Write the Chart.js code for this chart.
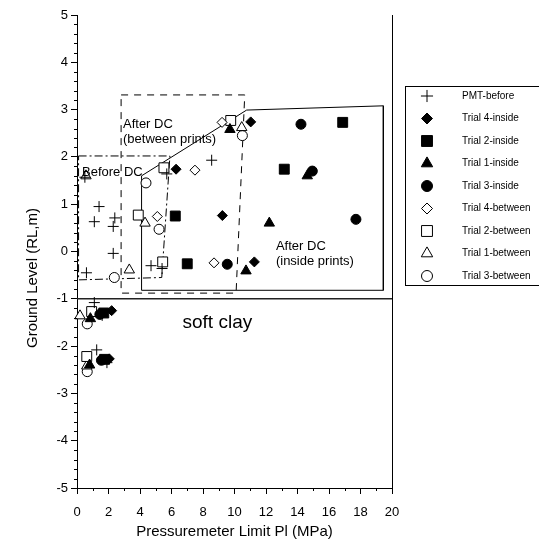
<!DOCTYPE html>
<html>
<head>
<meta charset="utf-8">
<script src="https://cdn.jsdelivr.net/npm/chart.js@4.4.0/dist/chart.umd.min.js"></script>
<style>
  html, body { margin: 0; padding: 0; background: #fff; }
</style>
</head>
<body>
<canvas id="myChart" width="539" height="541"></canvas>
<script>
// point data [pressuremeter limit (MPa), ground level (RL, m)]
const pmtBefore = [[0.5, 1.57], [5.7, 1.64], [8.55, 1.93], [1.4, 0.95], [1.1, 0.63], [2.4, 0.71],
  [2.3, 0.53], [2.3, -0.04], [0.6, -0.45], [4.7, -0.3], [5.4, -0.36], [1.1, -1.08], [1.6, -1.35],
  [1.25, -2.08], [1.9, -2.35]];
const trial4Inside = [[11.03, 2.74], [6.29, 1.74], [9.23, 0.76], [11.26, -0.22], [2.2, -1.25], [2.05, -2.27]];
const trial2Inside = [[16.87, 2.73], [13.16, 1.74], [6.24, 0.75], [7.0, -0.26], [1.7, -1.3], [1.75, -2.28]];
const trial1Inside = [[9.71, 2.58], [14.62, 1.6], [12.21, 0.6], [10.73, -0.41], [0.85, -1.42], [0.8, -2.4]];
const trial3Inside = [[14.22, 2.69], [14.94, 1.7], [17.71, 0.68], [9.54, -0.27], [1.45, -1.33], [1.55, -2.3]];
const trial4Between = [[9.21, 2.73], [7.49, 1.72], [5.1, 0.74], [8.7, -0.24]];
const trial2Between = [[9.76, 2.77], [5.52, 1.77], [3.89, 0.77], [5.44, -0.22], [0.93, -1.27], [0.62, -2.22]];
const trial1Between = [[10.46, 2.62], [0.57, 1.6], [4.32, 0.6], [3.32, -0.39], [0.19, -1.36], [0.62, -2.42]];
const trial3Between = [[10.5, 2.45], [4.38, 1.45], [5.21, 0.47], [2.37, -0.55], [0.65, -1.53], [0.65, -2.54]];

// zone outlines
const beforeDC = [[0.1, 2.02], [5.9, 2.02], [5.38, -0.55], [0.1, -0.6], [0.1, 2.02]];
const betweenPrints = [[2.8, 3.31], [10.65, 3.31], [10.1, -0.88], [2.8, -0.88], [2.8, 3.31]];
const insidePrints = [[4.1, 1.6], [10.77, 2.99], [19.45, 3.08], [19.45, -0.82], [4.1, -0.82], [4.1, 1.6]];
const clayTop = [[0, -1], [20, -1]];

// labels inside the plot [text, x, y]
const zoneLabels = [
  ["After DC", 2.92, 2.69],
  ["(between prints)", 2.92, 2.36],
  ["Before DC", 0.32, 1.68],
  ["After DC", 12.63, 0.1],
  ["(inside prints)", 12.63, -0.22],
];

const FONT = 'Arial, "Liberation Sans", sans-serif';
const toXY = (arr) => arr.map((p) => ({ x: p[0], y: p[1] }));

const markerSet = (label, data, style, radius, filled) => ({
  label: label,
  data: toXY(data),
  pointStyle: style,
  pointRadius: radius,
  pointHoverRadius: radius,
  pointBorderWidth: 1,
  borderColor: "#000",
  backgroundColor: filled ? "#000" : "#fff",
  showLine: false,
  clip: false,
  order: 1,
  isMarker: true,
});

const outlineSet = (label, data, dash, width, color) => ({
  label: label,
  data: toXY(data),
  showLine: true,
  borderColor: color || "#000",
  borderWidth: width || 1,
  borderDash: dash,
  pointRadius: 0,
  fill: false,
  tension: 0,
  clip: false,
  order: 2,
});

const decorations = {
  id: "decorations",
  afterDraw(chart) {
    const { ctx, chartArea } = chart;
    const x = chart.scales.x;
    const y = chart.scales.y;
    ctx.save();
    ctx.strokeStyle = "#000";
    ctx.lineWidth = 1;

    // minor ticks
    ctx.beginPath();
    for (let i = -25; i <= 25; i++) {
      if (i % 5 === 0) continue;
      const py = Math.round(y.getPixelForValue(i / 5)) + 0.5;
      ctx.moveTo(chartArea.left - 3, py);
      ctx.lineTo(chartArea.left, py);
    }
    for (let i = 1; i < 20; i += 2) {
      const px = Math.round(x.getPixelForValue(i)) + 0.5;
      ctx.moveTo(px, chartArea.bottom);
      ctx.lineTo(px, chartArea.bottom + 3);
    }
    // right frame
    const rx = Math.round(chartArea.right) + 0.5;
    ctx.moveTo(rx, chartArea.top);
    ctx.lineTo(rx, chartArea.bottom);
    ctx.stroke();

    // y title
    ctx.fillStyle = "#000";
    ctx.font = "15px " + FONT;
    ctx.textAlign = "center";
    ctx.textBaseline = "middle";
    ctx.save();
    ctx.translate(33, 278);
    ctx.rotate(-Math.PI / 2);
    ctx.fillText("Ground Level (RL,m)", 0, 0);
    ctx.restore();

    // zone labels
    ctx.font = "13px " + FONT;
    ctx.textAlign = "left";
    zoneLabels.forEach((l) => {
      ctx.fillText(l[0], x.getPixelForValue(l[1]), y.getPixelForValue(l[2]));
    });
    ctx.font = "19px " + FONT;
    ctx.fillText("soft clay", x.getPixelForValue(6.7), y.getPixelForValue(-1.5));

    // legend (box runs past the right edge, as in the original)
    ctx.strokeStyle = "#000";
    ctx.strokeRect(405.5, 86.5, 160, 199);
    ctx.font = "10px " + FONT;
    let row = 0;
    chart.data.datasets.forEach((ds) => {
      if (!ds.isMarker) return;
      const cy = 96 + row * 22.5;
      ctx.fillStyle = ds.backgroundColor;
      ctx.strokeStyle = ds.borderColor;
      ctx.lineWidth = 1;
      Chart.helpers.drawPoint(ctx, {
        pointStyle: ds.pointStyle,
        radius: ds.pointRadius * 1.1,
        rotation: 0,
        borderWidth: 1,
      }, 427, cy);
      ctx.fillStyle = "#000";
      ctx.fillText(ds.label, 462, cy);
      row++;
    });
    ctx.restore();
  },
};

new Chart(document.getElementById("myChart"), {
  type: "scatter",
  data: {
    datasets: [
      markerSet("PMT-before", pmtBefore, "cross", 5.5, false),
      markerSet("Trial 4-inside", trial4Inside, "rectRot", 5, true),
      markerSet("Trial 2-inside", trial2Inside, "rect", 7, true),
      markerSet("Trial 1-inside", trial1Inside, "triangle", 6, true),
      markerSet("Trial 3-inside", trial3Inside, "circle", 5, true),
      markerSet("Trial 4-between", trial4Between, "rectRot", 5, false),
      markerSet("Trial 2-between", trial2Between, "rect", 7, false),
      markerSet("Trial 1-between", trial1Between, "triangle", 6, false),
      markerSet("Trial 3-between", trial3Between, "circle", 5, false),
      outlineSet("before", beforeDC, [8, 3, 2, 3]),
      outlineSet("between", betweenPrints, [7, 6]),
      outlineSet("inside", insidePrints, []),
      outlineSet("clay", clayTop, [], 1.5, "#222"),
    ],
  },
  options: {
    responsive: false,
    animation: false,
    layout: { padding: { left: 0, right: 147, top: 15, bottom: 0 } },
    plugins: {
      legend: { display: false },
      tooltip: { enabled: false },
    },
    scales: {
      x: {
        type: "linear",
        min: 0,
        max: 20,
        ticks: { stepSize: 2, color: "#000", font: { family: FONT, size: 13 }, padding: 11, maxRotation: 0 },
        grid: { display: true, drawOnChartArea: false, tickLength: 6, tickColor: "#000" },
        border: { display: true, color: "#000", width: 1 },
        title: { display: true, text: "Pressuremeter Limit Pl (MPa)", color: "#000", font: { family: FONT, size: 15 }, padding: 0 },
        afterFit: (scale) => { scale.height = 53; },
      },
      y: {
        type: "linear",
        min: -5,
        max: 5,
        ticks: { stepSize: 1, color: "#000", font: { family: FONT, size: 13 }, padding: 3 },
        grid: { display: true, drawOnChartArea: false, tickLength: 6, tickColor: "#000" },
        border: { display: true, color: "#000", width: 1 },
        afterFit: (scale) => { scale.width = 77; },
      },
    },
  },
  plugins: [decorations],
});
</script>
</body>
</html>
